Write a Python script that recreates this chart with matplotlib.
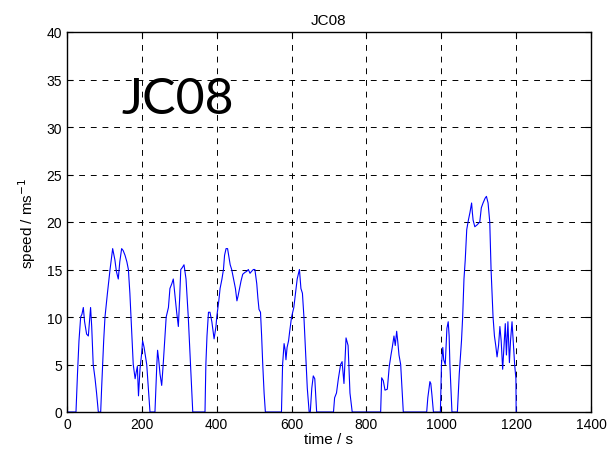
import matplotlib
matplotlib.use("Agg")
import matplotlib.pyplot as plt

# JC08 drive cycle (time in s, speed in m/s)
time_s = [0, 24, 28, 32, 36.5, 40, 43.6, 47, 52.4, 57, 60, 63, 66, 70, 75, 79, 83.7,
          90, 92.5, 95.3, 98, 101.5, 108, 115, 122, 128, 132, 137, 141, 146, 150, 155,
          160, 164, 168, 171, 174, 177, 182, 185, 188, 191, 195, 199, 202, 206, 209,
          213, 216.4, 221.7,
          235, 240, 242, 245, 248.5, 253, 257, 261, 265, 271, 275, 280, 284, 289, 293,
          297.5, 301, 304, 308, 312.6, 318, 321, 324, 327, 330, 336,
          368.7, 371, 374, 378, 382, 387, 393, 398, 400, 405, 409, 414, 418, 421, 425,
          429, 432, 436, 440, 445, 450, 454, 457, 461, 465, 469.5, 475.5, 480, 484.5,
          489, 493, 498, 502, 507, 510, 513, 517, 520, 523, 526.6, 530,
          573, 576, 580, 583, 585, 588, 592, 595, 600, 606, 612, 615, 618, 621, 625,
          629, 633, 636, 639, 642, 647, 650, 654, 658, 662, 667,
          712, 715, 720, 725, 731, 735, 740, 745.5, 751, 756, 762,
          838, 840.7, 845, 849.6, 855.8, 861, 865.6, 869, 873.6, 877, 880.8, 884, 887,
          891.5, 895, 898.5,
          961, 964, 969.6, 972, 975, 979,
          997.6, 1000.5, 1004, 1006.4, 1010.6, 1015, 1018.5, 1021, 1023, 1026, 1028.5,
          1043, 1048, 1054, 1057.1, 1060.6, 1064, 1068, 1072.4, 1076.6, 1081, 1083,
          1085, 1089.6, 1095.7, 1102.8, 1107, 1111.6, 1117, 1120.6, 1125, 1129.5, 1133,
          1138.3, 1142, 1145.5, 1149, 1153, 1156.6, 1160, 1164, 1167, 1171, 1174, 1178,
          1182, 1185, 1189, 1192, 1196, 1199.4, 1200]
speed = [0, 0, 4, 7.5, 10, 10.3, 11, 9.5, 8.2, 8, 9.5, 11, 9, 5, 3.5, 2, 0,
         0, 2.5, 5, 7.5, 10, 12.5, 15, 17.2, 16, 14.8, 14, 15.8, 17.2, 17, 16.5,
         15.8, 15, 12.5, 10, 7.5, 5, 3.5, 4.2, 4.8, 1.7, 4.5, 6, 7.5, 6.8, 6,
         5, 3, 0,
         0, 5, 6.5, 5.5, 4, 2.8, 5, 7.5, 10, 11, 13, 13.5, 14, 12, 10.5,
         9, 12, 15, 15.2, 15.5, 14, 12, 10, 7.5, 5, 0,
         0, 5, 8, 10.5, 10.5, 9.5, 7.7, 9, 10, 11.5, 13, 14, 15, 16.5, 17.2,
         17.2, 16.5, 15.5, 15, 14, 13, 11.7, 12.2, 13, 13.8, 14.5, 14.7, 14.8, 15,
         14.6, 14.8, 15, 15, 13.5, 12, 10.8, 10.5, 8, 5, 2, 0,
         0, 5, 7.2, 6.5, 5.5, 6.8, 7.5, 8.5, 10, 11, 13, 14, 14.5, 15, 13,
         12.5, 10, 7.5, 5, 2.5, 0, 0, 2.5, 3.8, 3.5, 0,
         0, 1.5, 2, 3.5, 5, 5.3, 3, 7.8, 7, 2, 0,
         0, 3.6, 3.3, 2.3, 2.4, 4.8, 6, 6.8, 8, 7, 8.5, 7.3, 6,
         5, 2.5, 0,
         0, 1.5, 3.2, 3, 1.8, 0,
         0, 5, 6.8, 5.5, 5, 8.8, 9.5, 8, 5, 2.2, 0,
         0, 4, 7.5, 10, 14, 16, 19.2, 20.2, 21, 22, 21,
         20.2, 19.5, 19.7, 20, 21.5, 22, 22.5, 22.7, 22, 20, 15,
         10, 8, 7, 5.8, 7, 9, 7.5, 4.5, 6.5, 9.3, 6, 9.5,
         5.2, 7.5, 9.5, 7.5, 5, 3.5, 0]

x_ticks = [0, 200, 400, 600, 800, 1000, 1200, 1400]
y_ticks = [0, 5, 10, 15, 20, 25, 30, 35, 40]

plt.rcParams['font.family'] = ['Liberation Sans', 'DejaVu Sans']

fig = plt.figure(figsize=(6.1, 4.6), dpi=100)
ax = fig.add_axes([67 / 610, 1 - 413 / 460, 524 / 610, 380 / 460])

ax.plot(time_s, speed, color='#0000ff', linewidth=0.8)

ax.set_xlim(0, 1400)
ax.set_ylim(0, 40)
ax.set_xticks(x_ticks)
ax.set_yticks(y_ticks)
ax.tick_params(direction='in', length=4, labelsize=10, top=True, right=True)
ax.grid(True, color='black', linestyle=(0, (6, 6)), linewidth=0.7)
for s in ax.spines.values():
    s.set_linewidth(1.0)

ax.set_title('JC08', fontsize=11)
ax.set_xlabel('time / s', fontsize=11, labelpad=1)
ax.set_ylabel('speed / ms$^{-1}$', fontsize=11, labelpad=6)

ax.text(296, 33, 'JC08', fontsize=36, family=['Lato', 'DejaVu Sans'],
        ha='center', va='center')

fig.savefig('out.png', dpi=100)
